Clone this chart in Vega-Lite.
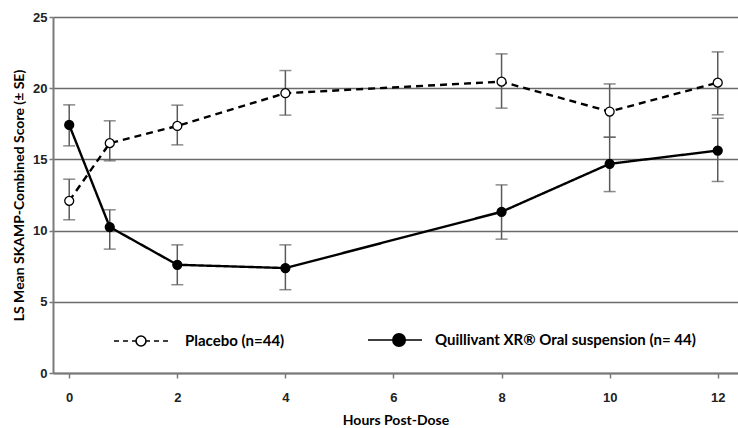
{
  "$schema": "https://vega.github.io/schema/vega-lite/v6.json",
  "width": 685,
  "height": 356,
  "autosize": "none",
  "padding": {"left": 53, "top": 17, "right": 0, "bottom": 55},
  "background": "white",
  "data": {
    "values": [
      {"series": "Placebo (n=44)", "hour": 0, "mean": 12.09, "lo": 10.76, "hi": 13.61},
      {"series": "Placebo (n=44)", "hour": 0.75, "mean": 16.14, "lo": 14.9, "hi": 17.71},
      {"series": "Placebo (n=44)", "hour": 2, "mean": 17.35, "lo": 16.02, "hi": 18.81},
      {"series": "Placebo (n=44)", "hour": 4, "mean": 19.65, "lo": 18.11, "hi": 21.24},
      {"series": "Placebo (n=44)", "hour": 8, "mean": 20.46, "lo": 18.6, "hi": 22.41},
      {"series": "Placebo (n=44)", "hour": 10, "mean": 18.36, "lo": 16.56, "hi": 20.3},
      {"series": "Placebo (n=44)", "hour": 12, "mean": 20.39, "lo": 18.13, "hi": 22.55},
      {"series": "Quillivant XR® Oral suspension (n= 44)", "hour": 0, "mean": 17.42, "lo": 15.95, "hi": 18.83},
      {"series": "Quillivant XR® Oral suspension (n= 44)", "hour": 0.75, "mean": 10.25, "lo": 8.7, "hi": 11.46},
      {"series": "Quillivant XR® Oral suspension (n= 44)", "hour": 2, "mean": 7.6, "lo": 6.2, "hi": 9.0},
      {"series": "Quillivant XR® Oral suspension (n= 44)", "hour": 4, "mean": 7.37, "lo": 5.85, "hi": 9.0},
      {"series": "Quillivant XR® Oral suspension (n= 44)", "hour": 8, "mean": 11.32, "lo": 9.4, "hi": 13.21},
      {"series": "Quillivant XR® Oral suspension (n= 44)", "hour": 10, "mean": 14.69, "lo": 12.74, "hi": 16.56},
      {"series": "Quillivant XR® Oral suspension (n= 44)", "hour": 12, "mean": 15.62, "lo": 13.45, "hi": 17.89}
    ]
  },
  "layer": [
    {
      "mark": {"type": "errorbar", "ticks": {"size": 12, "color": "#5a5a5a", "strokeWidth": 1.5}, "color": "#5a5a5a", "thickness": 1.5},
      "encoding": {
        "x": {"field": "hour", "type": "quantitative", "scale": {"domain": [-0.3, 12.375], "nice": false, "zero": false}, "title": "Hours Post-Dose", "axis": {"values": [0, 2, 4, 6, 8, 10, 12]}},
        "y": {"field": "lo", "type": "quantitative", "scale": {"domain": [0, 25], "nice": false}, "title": "LS Mean SKAMP-Combined Score (± SE)", "axis": {"values": [0, 5, 10, 15, 20, 25]}},
        "y2": {"field": "hi"},
        "detail": {"field": "series"}
      }
    },
    {
      "mark": {"type": "line", "color": "black", "strokeWidth": 2.4},
      "encoding": {
        "x": {"field": "hour", "type": "quantitative", "scale": {"domain": [-0.3, 12.375], "nice": false, "zero": false}, "title": "Hours Post-Dose", "axis": {"values": [0, 2, 4, 6, 8, 10, 12]}},
        "y": {"field": "mean", "type": "quantitative", "scale": {"domain": [0, 25], "nice": false}, "title": "LS Mean SKAMP-Combined Score (± SE)", "axis": {"values": [0, 5, 10, 15, 20, 25]}},
        "detail": {"field": "series"},
        "strokeDash": {"condition": {"test": "datum.series === 'Placebo (n=44)'", "value": [7, 5]}, "value": [1, 0]}
      }
    },
    {
      "transform": [{"filter": "datum.series === 'Placebo (n=44)'"}],
      "mark": {"type": "point", "filled": true, "shape": "circle", "size": 80, "stroke": "black", "strokeWidth": 1.3, "opacity": 1},
      "encoding": {
        "x": {"field": "hour", "type": "quantitative", "scale": {"domain": [-0.3, 12.375], "nice": false, "zero": false}, "title": "Hours Post-Dose", "axis": {"values": [0, 2, 4, 6, 8, 10, 12]}},
        "y": {"field": "mean", "type": "quantitative", "scale": {"domain": [0, 25], "nice": false}, "title": "LS Mean SKAMP-Combined Score (± SE)", "axis": {"values": [0, 5, 10, 15, 20, 25]}},
        "fill": {
          "field": "series", "type": "nominal",
          "scale": {"domain": ["Placebo (n=44)"], "range": ["white"]},
          "legend": {
            "title": null,
            "orient": "none",
            "legendX": 60,
            "legendY": 296,
            "padding": 0,
            "symbolSize": 2916,
            "symbolType": "M-1,0H-0.815M-0.667,0H-0.481M-0.333,0H-0.185M0.185,0H0.333M0.481,0H0.667M0.815,0H1M-0.185,0A0.185,0.185 0 1,0 0.185,0A0.185,0.185 0 1,0 -0.185,0Z",
            "symbolStrokeColor": "black",
            "symbolStrokeWidth": 1.6,
            "symbolOpacity": 1,
            "labelOffset": 16,
            "labelFont": "Lato",
            "labelFontWeight": "bold",
            "labelFontSize": 15,
            "labelColor": "black",
            "labelLimit": 400
          }
        }
      }
    },
    {
      "transform": [{"filter": "datum.series !== 'Placebo (n=44)'"}],
      "mark": {"type": "point", "filled": true, "shape": "circle", "size": 80, "fill": "black", "strokeWidth": 1.3, "opacity": 1},
      "encoding": {
        "x": {"field": "hour", "type": "quantitative", "scale": {"domain": [-0.3, 12.375], "nice": false, "zero": false}, "title": "Hours Post-Dose", "axis": {"values": [0, 2, 4, 6, 8, 10, 12]}},
        "y": {"field": "mean", "type": "quantitative", "scale": {"domain": [0, 25], "nice": false}, "title": "LS Mean SKAMP-Combined Score (± SE)", "axis": {"values": [0, 5, 10, 15, 20, 25]}},
        "stroke": {
          "field": "series", "type": "nominal",
          "scale": {"domain": ["Quillivant XR® Oral suspension (n= 44)"], "range": ["black"]},
          "legend": {
            "title": null,
            "orient": "none",
            "legendX": 314,
            "legendY": 295,
            "padding": 0,
            "symbolSize": 2916,
            "symbolType": "M-1,0H-0.08M0.38,0H1M-0.08,0A0.23,0.23 0 1,0 0.38,0A0.23,0.23 0 1,0 -0.08,0Z",
            "symbolFillColor": "black",
            "symbolStrokeWidth": 1.6,
            "symbolOpacity": 1,
            "labelOffset": 12,
            "labelFont": "Lato",
            "labelFontWeight": "bold",
            "labelFontSize": 15,
            "labelColor": "black",
            "labelLimit": 400
          }
        }
      }
    }
  ],
  "config": {
    "view": {"stroke": null},
    "axis": {
      "labelFont": "Liberation Sans",
      "labelFontWeight": "bold",
      "labelFontSize": 13,
      "labelColor": "#222",
      "titleFont": "Lato",
      "titleFontWeight": "bold",
      "titleFontSize": 14,
      "titleColor": "black",
      "domainColor": "#7a7a7a",
      "domainWidth": 2,
      "tickColor": "#7a7a7a",
      "tickWidth": 1.5
    },
    "axisX": {
      "grid": false,
      "tickSize": 5,
      "labelPadding": 13,
      "titlePadding": 9
    },
    "axisY": {
      "grid": true,
      "gridColor": "#6a6a6a",
      "gridWidth": 1.3,
      "tickSize": 4,
      "labelPadding": 2,
      "titlePadding": 6
    }
  }
}
